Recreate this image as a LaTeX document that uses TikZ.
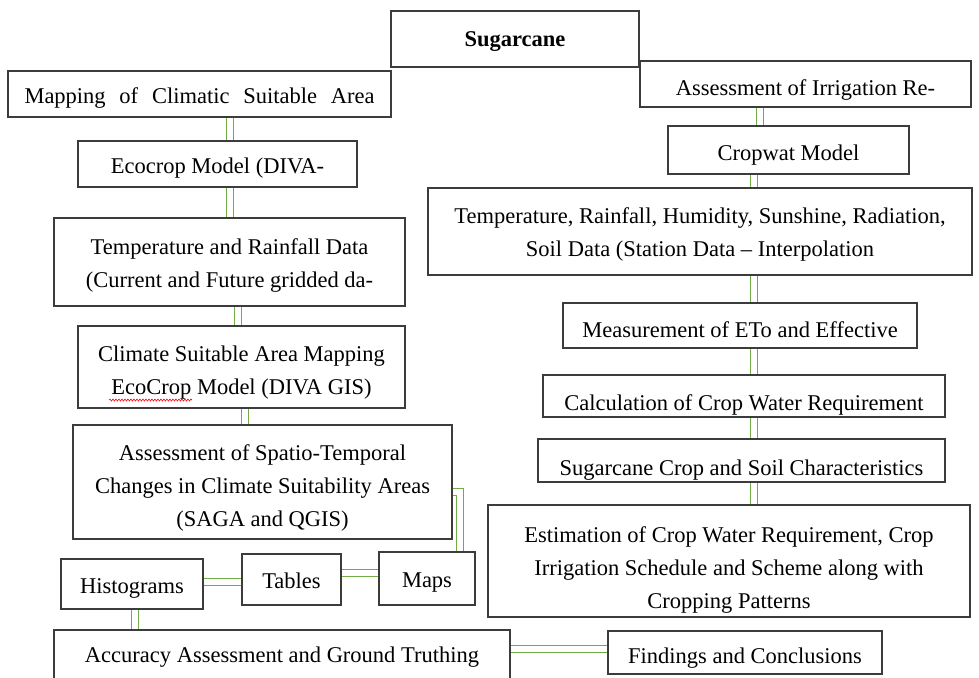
\documentclass[tikz,border=0pt]{standalone}
\usepackage{fontspec}
\setmainfont{Liberation Serif}
\usetikzlibrary{decorations.pathmorphing}
\definecolor{lnGreen}{RGB}{112,173,71}
\definecolor{boxLine}{RGB}{60,60,60}
\begin{document}
\begin{tikzpicture}[x=1pt,y=-1pt,
  box/.style={draw=boxLine, line width=1.4pt, fill=white, inner sep=0pt},
  txt/.style={inner sep=0pt, align=center, font=\fontsize{22.5}{33}\selectfont},
  conn/.style={draw=lnGreen, line width=1.5pt, double=white, double distance=5.5pt}]
\useasboundingbox (0,0) rectangle (979,677);
\fill[white] (0,0) rectangle (979,677);
% boxes, left column
\node[box, minimum width=248pt, minimum height=56pt] (sugar) at (515,39) {};
\node[box, minimum width=383pt, minimum height=46pt] (mapping) at (199.5,94) {};
\node[box, minimum width=279pt, minimum height=46pt] (eco) at (217.5,164) {};
\node[box, minimum width=351pt, minimum height=88pt] (temprain) at (229.5,262) {};
\node[box, minimum width=327pt, minimum height=82pt] (climate) at (241.5,367) {};
\node[box, minimum width=379pt, minimum height=114pt] (spatio) at (262.5,482) {};
\node[box, minimum width=142pt, minimum height=50pt] (hist) at (132,584) {};
\node[box, minimum width=99pt, minimum height=51pt] (tables) at (291.5,579.5) {};
\node[box, minimum width=96pt, minimum height=53pt] (maps) at (427,578.5) {};
\node[box, minimum width=456pt, minimum height=49pt] (accuracy) at (282,654.5) {};
\node[box, minimum width=274pt, minimum height=43pt] (findings) at (745,652.5) {};
% boxes, right column
\node[box, minimum width=331pt, minimum height=46pt] (irrig) at (805.5,84) {};
\node[box, minimum width=241pt, minimum height=48pt] (cropwat) at (788.5,150) {};
\node[box, minimum width=544pt, minimum height=87pt] (temprad) at (700,231.5) {};
\node[box, minimum width=354pt, minimum height=45pt] (measure) at (740,325.5) {};
\node[box, minimum width=402pt, minimum height=42pt] (calc) at (744,396) {};
\node[box, minimum width=407pt, minimum height=43pt] (sugcrop) at (741.5,460.5) {};
\node[box, minimum width=482pt, minimum height=112pt] (estim) at (729,561) {};
% texts
\node[txt] (sugar-t) at ([yshift=-3pt]sugar.center) {\textbf{Sugarcane}};
\node[txt] (mapping-t) at ([yshift=-4pt]mapping.center) {\makebox[350pt][s]{Mapping of Climatic Suitable Area}};
\node[txt] (eco-t) at ([yshift=-4pt]eco.center) {Ecocrop Model (DIVA-};
\node[txt] (temprain-t) at ([yshift=-4pt]temprain.center) {Temperature and Rainfall Data\\(Current and Future gridded da-};
\node[txt] (climate-t) at ([yshift=-6pt]climate.center) {Climate Suitable Area Mapping\\EcoCrop Model (DIVA GIS)};
\node[txt] (spatio-t) at ([yshift=-6pt]spatio.center) {Assessment of Spatio-Temporal\\Changes in Climate Suitability Areas\\(SAGA and QGIS)};
\node[txt] (hist-t) at ([yshift=-4pt]hist.center) {Histograms};
\node[txt] (tables-t) at ([yshift=-1pt]tables.center) {Tables};
\node[txt] (maps-t) at ([yshift=-4pt]maps.center) {Maps};
\node[txt] (accuracy-t) at ([yshift=-3pt]accuracy.center) {Accuracy Assessment and Ground Truthing};
\node[txt] (findings-t) at ([yshift=-6pt]findings.center) {Findings and Conclusions};
\node[txt] (irrig-t) at ([yshift=-6pt]irrig.center) {Assessment of Irrigation Re-};
\node[txt] (cropwat-t) at ([yshift=-5pt]cropwat.center) {Cropwat Model};
\node[txt] (temprad-t) at ([yshift=-3pt]temprad.center) {Temperature, Rainfall, Humidity, Sunshine, Radiation,\\Soil Data (Station Data – Interpolation};
\node[txt] (measure-t) at ([yshift=-4pt]measure.center) {Measurement of ETo and Effective};
\node[txt] (estim-t) at ([yshift=-9pt]estim.center) {Estimation of Crop Water Requirement, Crop\\Irrigation Schedule and Scheme along with\\Cropping Patterns};
\begin{scope}
\clip ([yshift=-2pt]calc.south west) rectangle (calc.north east);
\node[txt, anchor=base] (calc-t) at (744,410) {Calculation of Crop Water Requirement};
\end{scope}
\begin{scope}
\clip ([yshift=-2pt]sugcrop.south west) rectangle (sugcrop.north east);
\node[txt, anchor=base] (sugcrop-t) at (741.5,475) {Sugarcane Crop and Soil Characteristics};
\end{scope}
% spell-check underline
\coordinate (wa) at (109,400);
\coordinate (wb) at (192,400);
\draw[red, line width=0.6pt, decorate, decoration={snake, amplitude=1pt, segment length=3pt}] (wa) -- (wb);
% connectors left
\draw[conn] (mapping.south -| 230,0) -- (eco.north -| 230,0);
\draw[conn] (eco.south -| 230,0) -- (temprain.north -| 230,0);
\draw[conn] (temprain.south -| 238,0) -- (climate.north -| 238,0);
\draw[conn] (climate.south -| 245,0) -- (spatio.north -| 245,0);
\draw[conn] (spatio.east |- 0,492) -- (460,492) -- (maps.north -| 460,0);
\draw[conn] (maps.west |- 0,573) -- (tables.east |- 0,573);
\draw[conn] (tables.west |- 0,582) -- (hist.east |- 0,582);
\draw[conn] (hist.south -| 135,0) -- (accuracy.north -| 135,0);
\draw[conn] (accuracy.east |- 0,649) -- (findings.west |- 0,649);
% connectors right
\draw[conn] (irrig.south -| 760,0) -- (cropwat.north -| 760,0);
\draw[conn] (cropwat.south -| 754,0) -- (temprad.north -| 754,0);
\draw[conn] (temprad.south -| 754,0) -- (measure.north -| 754,0);
\draw[conn] (measure.south -| 754,0) -- (calc.north -| 754,0);
\draw[conn] (calc.south -| 754,0) -- (sugcrop.north -| 754,0);
\draw[conn] (sugcrop.south -| 754,0) -- (estim.north -| 754,0);
\end{tikzpicture}
\end{document}
